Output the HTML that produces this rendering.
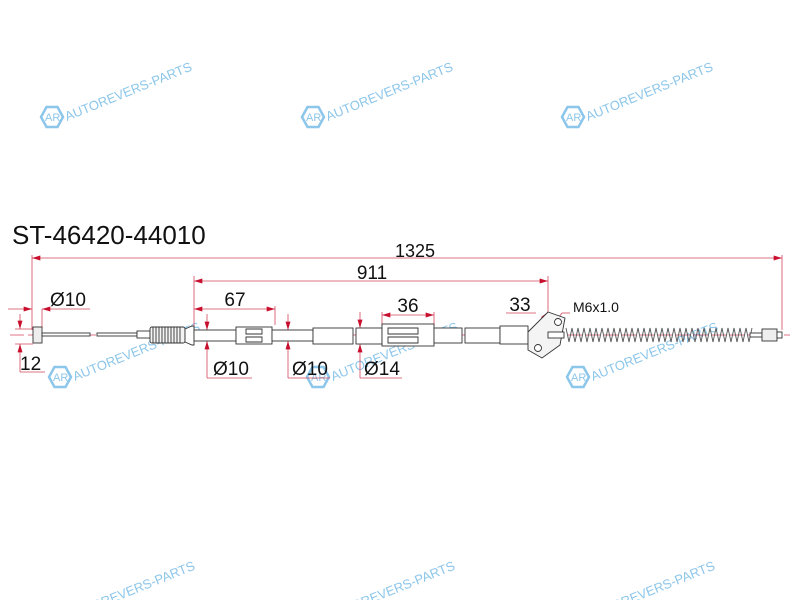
<!DOCTYPE html>
<html><head><meta charset="utf-8"><style>
html,body{margin:0;padding:0;background:#fff;width:800px;height:600px;overflow:hidden;}
svg{display:block;}
.t{font-family:"Liberation Sans",sans-serif;fill:#111;}
.wm{font-family:"Liberation Sans",sans-serif;fill:#8cc6ea;font-size:13px;}
</style></head><body>
<svg width="800" height="600" viewBox="0 0 800 600" xmlns="http://www.w3.org/2000/svg" overflow="hidden">
<defs>
<clipPath id="cp"><rect x="0" y="0" width="800" height="600"/></clipPath>
<marker id="a" viewBox="0 0 10 6" refX="10" refY="3" markerWidth="9" markerHeight="5" orient="auto-start-reverse" markerUnits="userSpaceOnUse"><path d="M0,0L10,3L0,6z" fill="#c8102e"/></marker>
<g id="wmk">
 <polygon points="-11,0 -5.5,-10 5.5,-10 11,0 5.5,10 -5.5,10" fill="none" stroke="#8cc6ea" stroke-width="2.5"/>
 <text x="-7" y="4" font-size="11" font-family="Liberation Sans,sans-serif" fill="#8cc6ea">AR</text>
 <text class="wm" x="15" y="4" transform="rotate(-22 15 4)">AUTOREVERS-PARTS</text>
</g>
</defs>

<use href="#wmk" x="52" y="117"/>
<use href="#wmk" x="313" y="117"/>
<use href="#wmk" x="573" y="117"/>
<use href="#wmk" x="60" y="377"/>
<use href="#wmk" x="318" y="377"/>
<use href="#wmk" x="578" y="377"/>
<g clip-path="url(#cp)">
<text class="wm" x="70" y="620" transform="rotate(-22 70 620)">AUTOREVERS-PARTS</text>
<text class="wm" x="330" y="620" transform="rotate(-22 330 620)">AUTOREVERS-PARTS</text>
<text class="wm" x="590" y="620" transform="rotate(-22 590 620)">AUTOREVERS-PARTS</text>
</g>

<text class="t" x="12" y="244" font-size="26">ST-46420-44010</text>

<g stroke="#d2465e" stroke-width="0.8" fill="none">
 <line x1="32" y1="255" x2="32" y2="330"/>
 <line x1="782" y1="255" x2="782" y2="330"/>
 <line x1="32" y1="258" x2="782" y2="258" marker-start="url(#a)" marker-end="url(#a)"/>
 <line x1="194" y1="276" x2="194" y2="335"/>
 <line x1="548" y1="276" x2="548" y2="312"/>
 <line x1="194" y1="281" x2="548" y2="281" marker-start="url(#a)" marker-end="url(#a)"/>
 <line x1="275" y1="306" x2="275" y2="325"/>
 <line x1="194" y1="309" x2="275" y2="309" marker-start="url(#a)" marker-end="url(#a)"/>
 <line x1="8" y1="309" x2="32" y2="309" marker-end="url(#a)"/>
 <line x1="90" y1="309" x2="42" y2="309" marker-end="url(#a)"/>
 <line x1="42" y1="309" x2="42" y2="328"/>
 <line x1="15" y1="329" x2="33" y2="329"/>
 <line x1="15" y1="344" x2="33" y2="344"/>
 <line x1="20" y1="314" x2="20" y2="329" marker-end="url(#a)"/>
 <line x1="20" y1="372" x2="20" y2="344" marker-end="url(#a)"/>
 <line x1="20" y1="372" x2="45" y2="372"/>
 <line x1="207" y1="314" x2="207" y2="330" marker-end="url(#a)"/>
 <line x1="207" y1="378" x2="207" y2="341" marker-end="url(#a)"/>
 <line x1="207" y1="378" x2="252" y2="378"/>
 <line x1="288" y1="314" x2="288" y2="330" marker-end="url(#a)"/>
 <line x1="288" y1="378" x2="288" y2="341" marker-end="url(#a)"/>
 <line x1="288" y1="378" x2="330" y2="378"/>
 <line x1="360" y1="312" x2="360" y2="328" marker-end="url(#a)"/>
 <line x1="360" y1="378" x2="360" y2="344" marker-end="url(#a)"/>
 <line x1="360" y1="378" x2="402" y2="378"/>
 <line x1="382" y1="312" x2="382" y2="326"/>
 <line x1="434" y1="312" x2="434" y2="326"/>
 <line x1="382" y1="315" x2="434" y2="315" marker-start="url(#a)" marker-end="url(#a)"/>
 <line x1="506" y1="313" x2="536" y2="313"/>
 <line x1="548" y1="312" x2="527" y2="340" marker-start="url(#a)" marker-end="url(#a)"/>
 <line x1="562" y1="313" x2="570" y2="313"/>
 <line x1="562" y1="313" x2="555" y2="322"/>
 <line x1="10" y1="335" x2="790" y2="335" stroke-dasharray="14,4"/>
</g>

<g class="t">
 <text x="415" y="257" font-size="18" text-anchor="middle">1325</text>
 <text x="372" y="279" font-size="19" text-anchor="middle">911</text>
 <text x="235" y="306" font-size="19" text-anchor="middle">67</text>
 <text x="50" y="306" font-size="19">Ø10</text>
 <text x="20" y="370" font-size="19">12</text>
 <text x="213" y="375" font-size="19">Ø10</text>
 <text x="292" y="375" font-size="19">Ø10</text>
 <text x="364" y="375" font-size="19">Ø14</text>
 <text x="408" y="312" font-size="19" text-anchor="middle">36</text>
 <text x="520" y="311" font-size="19" text-anchor="middle">33</text>
 <text x="573" y="312" font-size="14">M6x1.0</text>
</g>

<g stroke="#333" stroke-width="0.9" fill="#fff">
 <rect x="33" y="327" width="9" height="16" fill="#eee"/>
 <rect x="42" y="333" width="48" height="3"/>
 <rect x="97" y="333" width="40" height="3"/>
 <rect x="137" y="331" width="13" height="7"/>
 <rect x="150" y="327" width="35" height="16" rx="2" fill="#f4f4f4"/>
 <path d="M153,327v16M156,327v16M159,327v16M162,327v16M165,327v16M168,327v16M171,327v16M174,327v16M177,327v16M180,327v16"/>
 <path d="M185,329L192,326L194,326L194,345L192,345L185,342z"/>
 <rect x="194" y="330" width="42" height="11"/>
 <rect x="236" y="327" width="36" height="17"/>
 <path d="M246,329h16v5h-16zM246,337h16v5h-16z"/>
 <rect x="272" y="330" width="41" height="11"/>
 <rect x="313" y="328" width="40" height="16"/>
 <rect x="356" y="328" width="26" height="16"/>
 <rect x="382" y="324" width="52" height="22"/>
 <path d="M388,328h30v6h-30zM388,337h30v6h-30z"/>
 <rect x="434" y="328" width="28" height="15"/>
 <rect x="465" y="328" width="35" height="15"/>
 <rect x="500" y="326" width="28" height="18"/>
 <path d="M528,332L548,312L565,318L560,345L542,358L528,350z" fill="#f4f4f4"/>
 <circle cx="558" cy="322" r="3.5"/>
 <circle cx="538" cy="348" r="3.5"/>
 <rect x="548" y="332" width="16" height="6"/>
 <path stroke="#555" fill="none" d="M566,328 l3,14 l3,-14 l3,14 l3,-14 l3,14 l3,-14 l3,14 l3,-14 l3,14 l3,-14 l3,14 l3,-14 l3,14 l3,-14 l3,14 l3,-14 l3,14 l3,-14 l3,14 l3,-14 l3,14 l3,-14 l3,14 l3,-14 l3,14 l3,-14 l3,14 l3,-14 l3,14 l3,-14 l3,14 l3,-14 l3,14 l3,-14 l3,14 l3,-14 l3,14 l3,-14 l3,14 l3,-14 l3,14 l3,-14 l3,14 l3,-14 l3,14 l3,-14 l3,14 l3,-14 l3,14 l3,-14 l3,14 l3,-14 l3,14 l3,-14 l3,14 l3,-14 l3,14 l3,-14 l3,14 l3,-14 l3,14 l3,-14"/>
 <rect x="750" y="333" width="12" height="4"/>
 <rect x="762" y="329" width="15" height="12" fill="#eee"/>
 <rect x="777" y="332" width="5" height="6"/>
</g>
</svg>
</body></html>
